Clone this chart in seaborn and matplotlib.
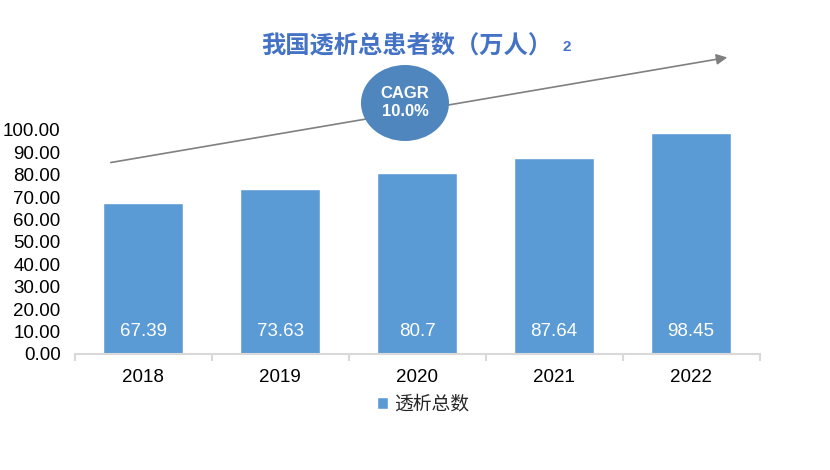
import numpy as np
import pandas as pd
import matplotlib
matplotlib.use('Agg')
import matplotlib.pyplot as plt
import seaborn as sns
from matplotlib.patches import Ellipse, FancyArrowPatch
from matplotlib.ticker import FixedLocator

years = ['2018', '2019', '2020', '2021', '2022']
patients = [67.39, 73.63, 80.7, 87.64, 98.45]
value_labels = ['67.39', '73.63', '80.7', '87.64', '98.45']
series_name = '透析总数'
title = '我国透析总患者数（万人）'
cagr_text = 'CAGR\n10.0%'

sns.set_theme(style='white')
plt.rcParams['font.family'] = ['Liberation Sans', 'Noto Sans CJK SC', 'DejaVu Sans']

bar_color = '#5B9BD5'
df = pd.DataFrame({'year': years, 'value': patients})

fig = plt.figure(figsize=(8.3, 4.7), dpi=100)
ax = fig.add_axes([74.5 / 830, 1 - 354 / 470, 685 / 830, 224 / 470])

sns.barplot(data=df, x='year', y='value', color=bar_color, saturation=1,
            width=0.58, ax=ax, label=series_name)

ax.set_xlim(-0.5, 4.5)
ax.set_ylim(0, 100)
ax.set_yticks(np.arange(0, 101, 10))
ax.set_yticklabels([f'{v:.2f}' for v in np.arange(0, 101, 10)], fontsize=13.5, color='black')
ax.tick_params(axis='x', labelsize=13.5, colors='black', length=0, pad=11)
ax.tick_params(axis='y', length=0, pad=10)
ax.xaxis.set_minor_locator(FixedLocator(np.arange(-0.5, 5, 1)))
ax.tick_params(axis='x', which='minor', length=5, width=1.5, color='#D9D9D9', direction='out', bottom=True)
ax.set_xlabel('')
ax.set_ylabel('')
for s in ['top', 'right', 'left']:
    ax.spines[s].set_visible(False)
ax.spines['bottom'].set_color('#D9D9D9')
ax.spines['bottom'].set_linewidth(1.5)

for i, lab in enumerate(value_labels):
    ax.text(i, 10, lab, ha='center', va='center', color='white', fontsize=13.5)

# title
fig.text(407 / 830, 1 - 45 / 470, title, ha='center', va='center', fontsize=17.5,
         fontweight='bold', color='#4472C4', family=['Noto Sans CJK SC', 'DejaVu Sans'])
fig.text(567 / 830, 1 - 47 / 470, '2', ha='center', va='center', fontsize=11,
         fontweight='bold', color='#4472C4')

# growth arrow
arrow = FancyArrowPatch((108 / 830, 1 - 163 / 470), (730 / 830, 1 - 57 / 470),
                        transform=fig.transFigure, arrowstyle='-|>', mutation_scale=16,
                        color='#808080', lw=1.2)
fig.patches.append(arrow)

ell = Ellipse((405 / 830, 1 - 103 / 470), 88 / 830, 76 / 470, transform=fig.transFigure,
              facecolor='#4F86BE', edgecolor='none')
fig.patches.append(ell)
fig.text(405 / 830, 1 - 103 / 470, cagr_text, ha='center', va='center', color='white',
         fontsize=12, fontweight='bold', linespacing=1.25)

leg = ax.legend(loc='center', frameon=False, handlelength=0.6,
                handleheight=0.6, handletextpad=0.3,
                prop={'family': ['Noto Sans CJK SC', 'DejaVu Sans'], 'size': 13.5})
leg.set_bbox_to_anchor((423 / 830, 1 - 404 / 470), transform=fig.transFigure)

fig.savefig('out.png', dpi=100)
